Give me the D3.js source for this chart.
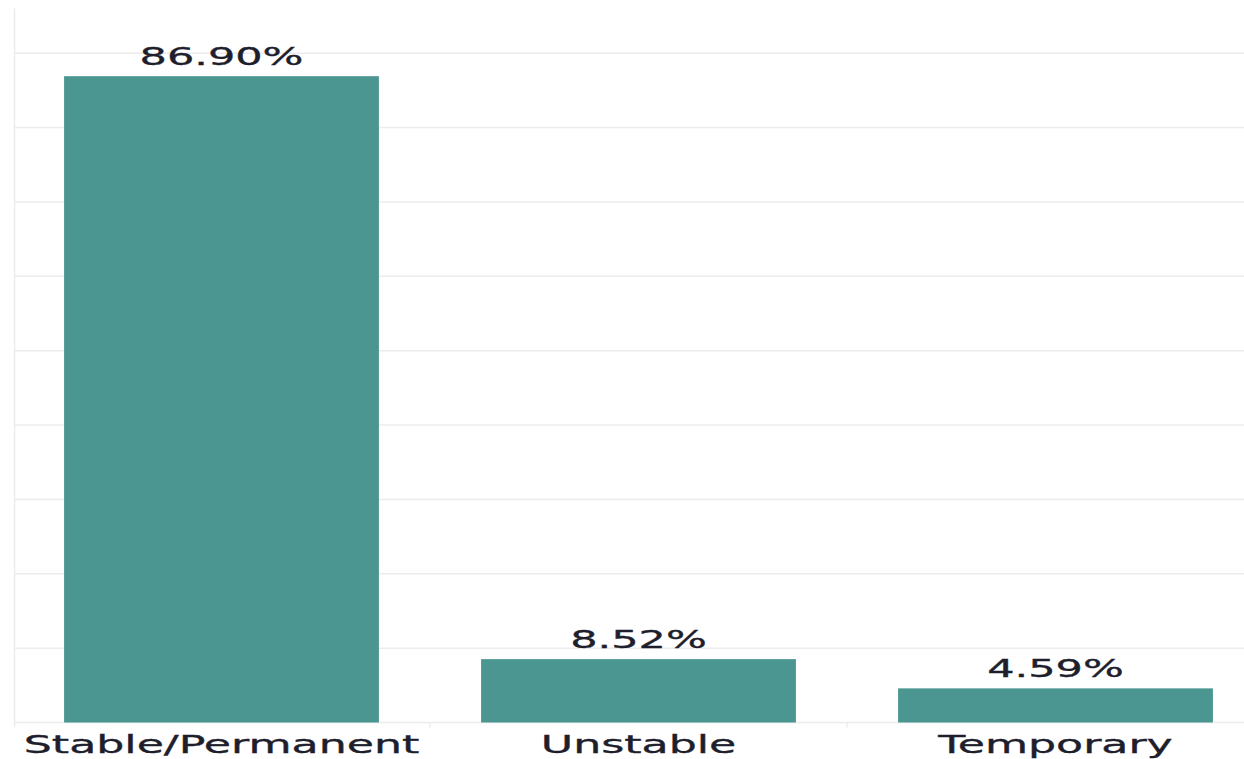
<!DOCTYPE html>
<html>
<head>
<meta charset="utf-8">
<script src="https://cdn.jsdelivr.net/npm/d3@7"></script>
<style>
  html, body { margin: 0; padding: 0; background: #fff; }
  svg { display: block; }
  text { font-family: "DejaVu Sans", Verdana, sans-serif; fill: #1e1e2c; stroke: #1e1e2c; stroke-width: 0.35px; }
</style>
</head>
<body>
<svg id="chart" width="1244" height="759"></svg>
<script>
// Employment contract type shares
const categories = ["Stable/Permanent", "Unstable", "Temporary"];
const shares = [86.90, 8.52, 4.59];
const labels = ["86.90%", "8.52%", "4.59%"];
const gridTicks = [0, 10, 20, 30, 40, 50, 60, 70, 80, 90];

const svg = d3.select("#chart");
const W = 1244;

const x = d3.scaleBand()
  .domain(categories)
  .range([13, 1264])
  .paddingInner(0.245)
  .paddingOuter(0.1225);

const y = d3.scaleLinear()
  .domain([0, 96])
  .range([722.5, 8.5]);

const gridColor = "#ececec";

// horizontal gridlines
svg.append("g")
  .selectAll("line")
  .data(gridTicks)
  .join("line")
  .attr("x1", 14)
  .attr("x2", W)
  .attr("y1", d => y(d))
  .attr("y2", d => y(d))
  .attr("stroke", gridColor)
  .attr("stroke-width", 1.5);

// left axis rule
svg.append("line")
  .attr("x1", 14.5).attr("x2", 14.5)
  .attr("y1", y(96)).attr("y2", y(0) + 5)
  .attr("stroke", gridColor)
  .attr("stroke-width", 1.5);

// small separators between categories
svg.append("g")
  .selectAll("line")
  .data(categories.slice(0, -1))
  .join("line")
  .attr("x1", d => x(d) + x.bandwidth() + x.step() * x.paddingInner() / 2)
  .attr("x2", d => x(d) + x.bandwidth() + x.step() * x.paddingInner() / 2)
  .attr("y1", y(0))
  .attr("y2", y(0) + 5)
  .attr("stroke", gridColor)
  .attr("stroke-width", 1.5);

// bars
svg.append("g")
  .selectAll("rect")
  .data(categories)
  .join("rect")
  .attr("x", d => x(d))
  .attr("width", x.bandwidth())
  .attr("y", (d, i) => y(shares[i]))
  .attr("height", (d, i) => y(0) - y(shares[i]))
  .attr("fill", "#4b9690");

// value labels
svg.append("g")
  .selectAll("text")
  .data(categories)
  .join("text")
  .attr("transform", (d, i) =>
    `translate(${x(d) + x.bandwidth() / 2},${y(shares[i]) - 11.5}) scale(1.72,1)`)
  .attr("text-anchor", "middle")
  .attr("font-size", 25)
  .text((d, i) => labels[i]);

// category labels
svg.append("g")
  .selectAll("text")
  .data(categories)
  .join("text")
  .attr("transform", d =>
    `translate(${x(d) + x.bandwidth() / 2},753) scale(1.77,1)`)
  .attr("text-anchor", "middle")
  .attr("font-size", 25)
  .text(d => d);
</script>
</body>
</html>
